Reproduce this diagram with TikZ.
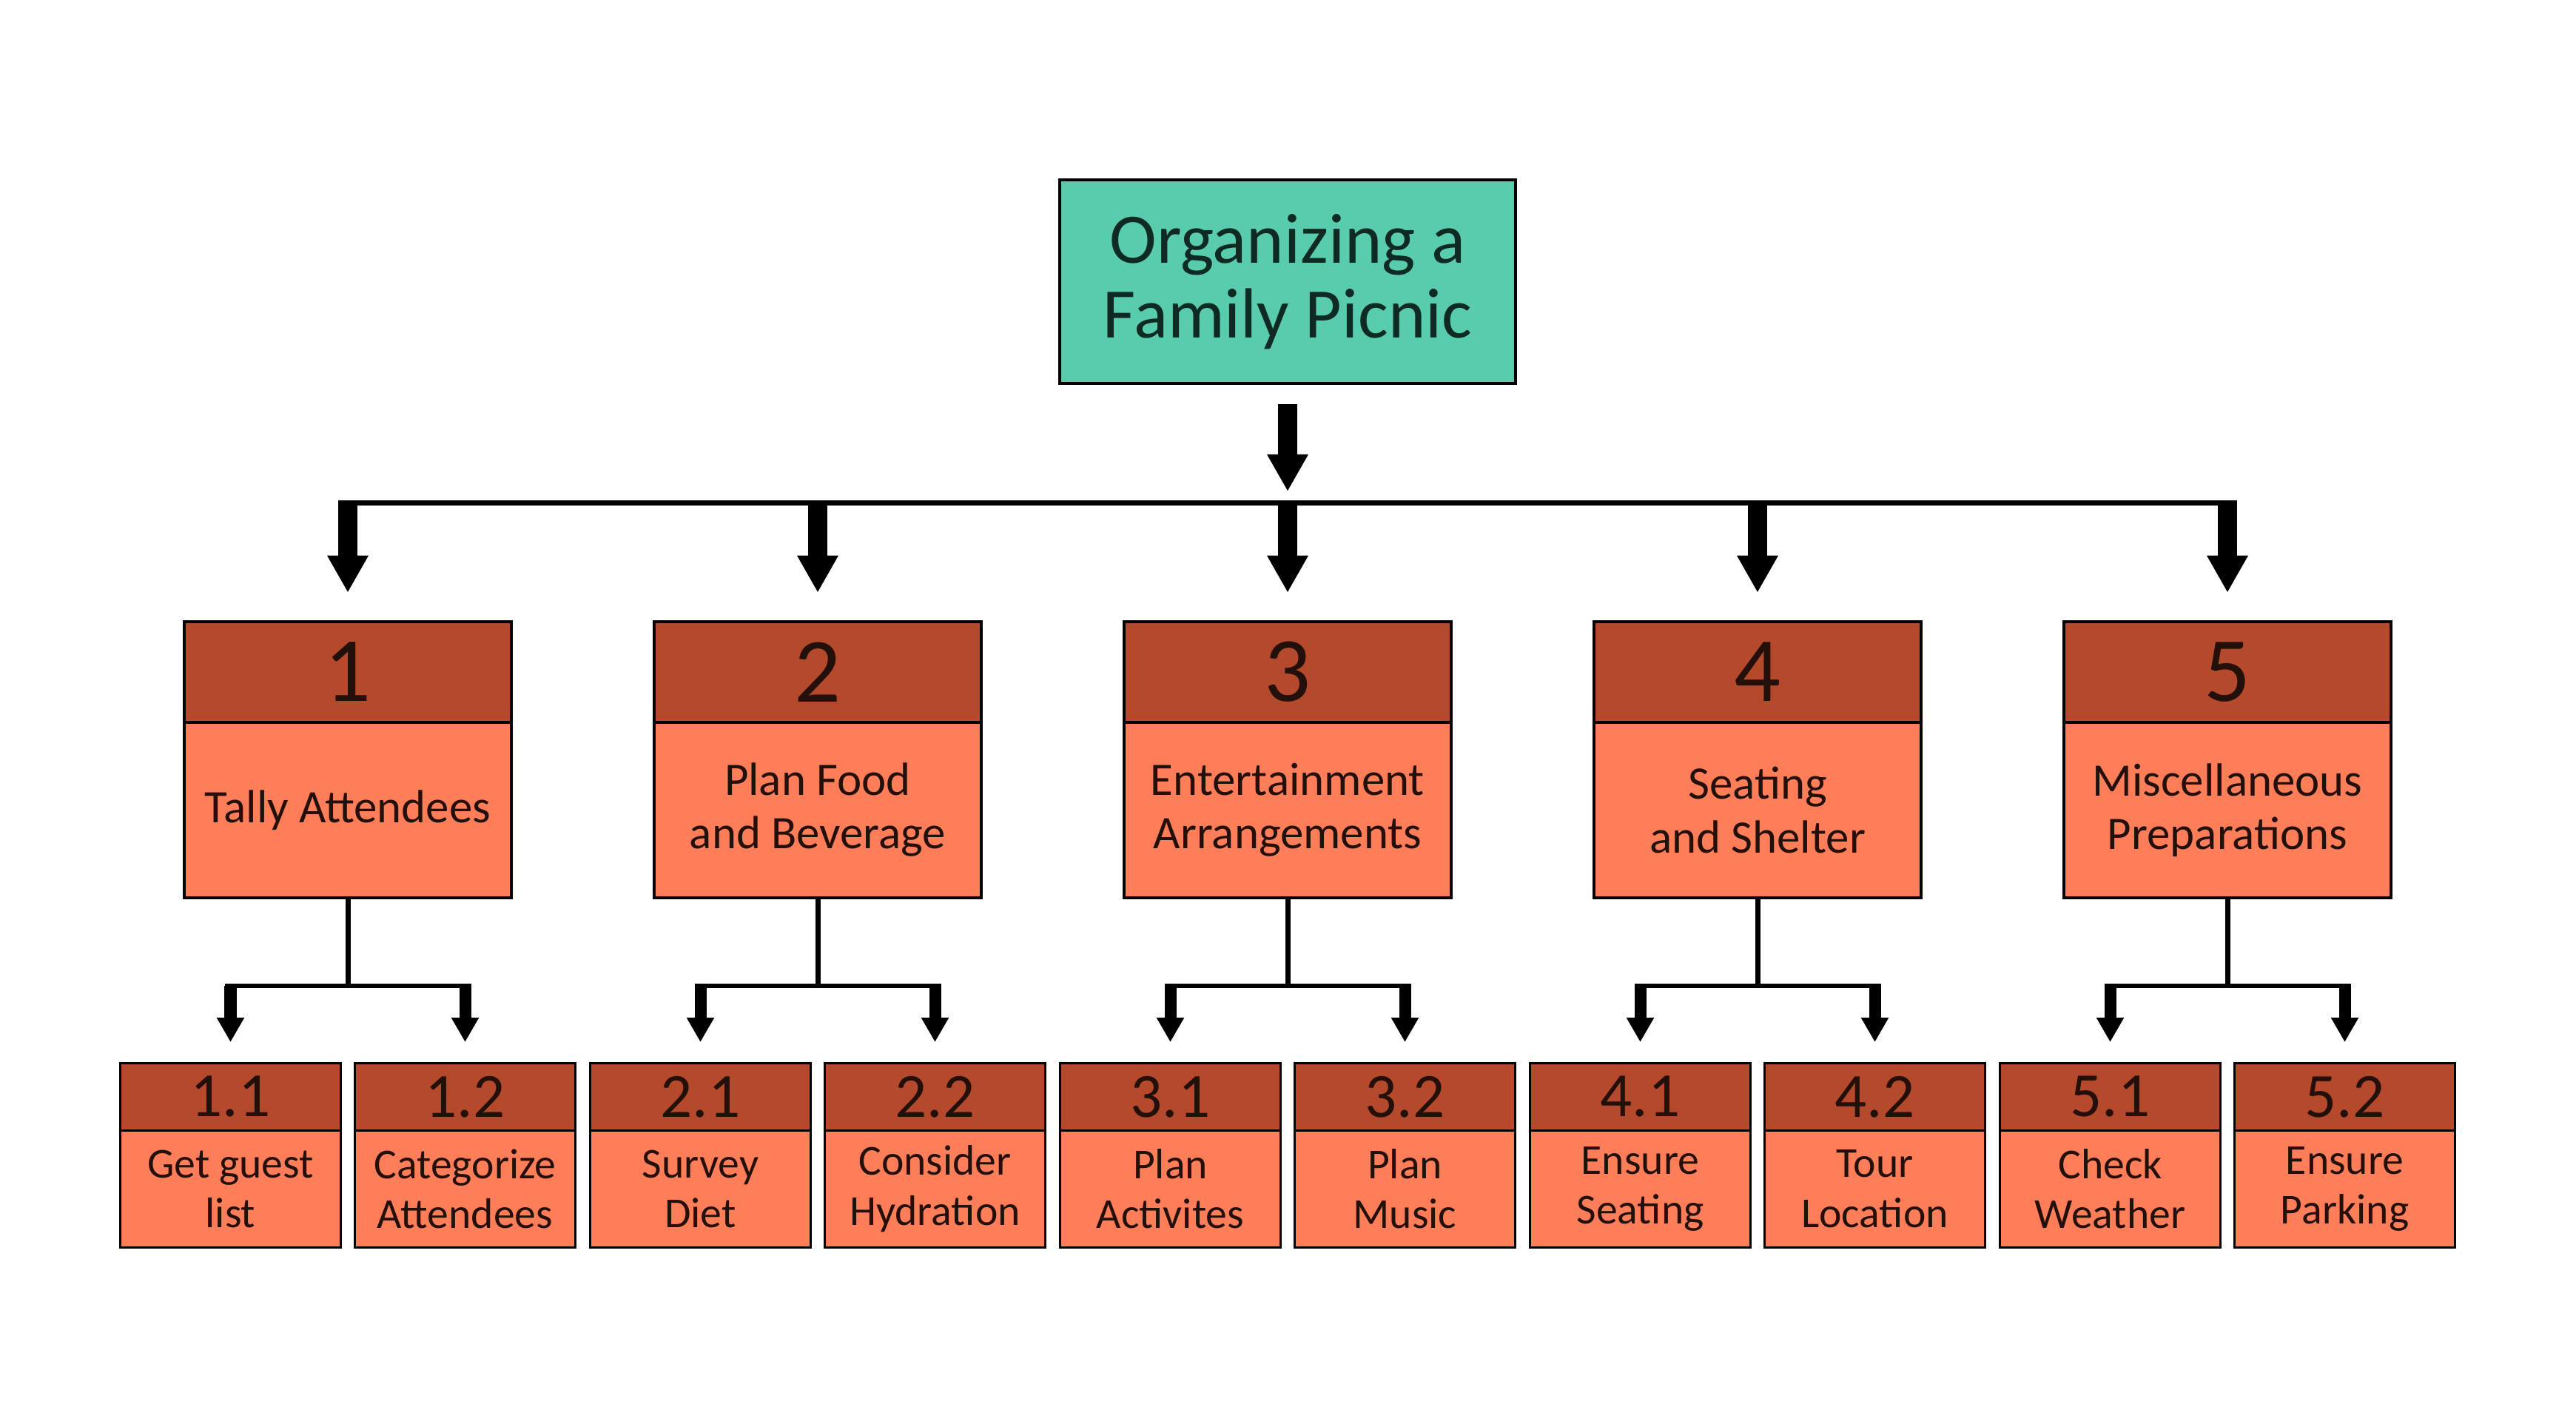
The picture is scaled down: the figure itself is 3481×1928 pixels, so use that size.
\documentclass[tikz,border=0pt]{standalone}
\usepackage{fontspec}
\setmainfont{Carlito}
\usetikzlibrary{arrows.meta,calc}
\definecolor{topfill}{HTML}{5ACCAE}
\definecolor{headfill}{HTML}{B4492C}
\definecolor{bodyfill}{HTML}{FF7E5A}
\definecolor{toptext}{HTML}{0E2A22}
\definecolor{inktext}{HTML}{24100A}
\begin{document}
\begin{tikzpicture}[x=0.01cm,y=-0.01cm,
  topbox/.style={draw=black,line width=0.045cm,fill=topfill,minimum width=6.16cm,minimum height=2.75cm,inner sep=0pt,align=center,text=toptext,font=\fontsize{27.3}{28.7}\selectfont},
  headbox/.style={draw=black,line width=0.045cm,fill=headfill,minimum width=4.42cm,minimum height=1.36cm,inner sep=0pt,text=inktext,font=\fontsize{35.3}{36}\selectfont},
  bodybox/.style={draw=black,line width=0.045cm,fill=bodyfill,minimum width=4.42cm,minimum height=2.37cm,inner sep=0pt,align=center,text=inktext,font=\fontsize{17.9}{20.5}\selectfont},
  subhead/.style={draw=black,line width=0.03cm,fill=headfill,minimum width=2.97cm,minimum height=0.905cm,inner sep=0pt,text=inktext,font=\fontsize{24.2}{25}\selectfont},
  subbody/.style={draw=black,line width=0.03cm,fill=bodyfill,minimum width=2.97cm,minimum height=1.585cm,inner sep=0pt,align=center,text=inktext,font=\fontsize{16.4}{19.2}\selectfont},
  bigarrow/.style={line width=0.26cm,-{Triangle[width=0.52cm,length=0.50cm]}},
  smallarrow/.style={line width=0.16cm,-{Triangle[width=0.35cm,length=0.33cm]}},
  busline/.style={line width=0.07cm},
  subbus/.style={line width=0.06cm}]
\fill[white] (0,0) rectangle (3481,1928);
\useasboundingbox (0,0) rectangle (3481,1928);

% top
\node[topbox] (top) at (1740,380.5) {Organizing a\\Family Picnic};

% level 1
\node[bodybox] (b1) at (470,1094.5) {Tally Attendees};
\node[headbox] (h1) at (470,908) {1};
\node[bodybox] (b2) at (1105,1094.5) {Plan Food\\and Beverage};
\node[headbox] (h2) at (1105,908) {2};
\node[bodybox] (b3) at (1740,1094.5) {Entertainment\\Arrangements};
\node[headbox] (h3) at (1740,908) {3};
\node[bodybox] (b4) at (2375,1094.5) {Seating\\and Shelter};
\node[headbox] (h4) at (2375,908) {4};
\node[bodybox] (b5) at (3010,1094.5) {Miscellaneous\\Preparations};
\node[headbox] (h5) at (3010,908) {5};

% level 2
\node[subbody] (t11) at (311.5,1606.25) {Get guest\\list};
\node[subhead] (s11) at (311.5,1481.75) {1.1};
\node[subbody] (t12) at (628.5,1606.25) {Categorize\\Attendees};
\node[subhead] (s12) at (628.5,1481.75) {1.2};
\node[subbody] (t21) at (946.5,1606.25) {Survey\\Diet};
\node[subhead] (s21) at (946.5,1481.75) {2.1};
\node[subbody] (t22) at (1263.5,1606.25) {Consider\\Hydration};
\node[subhead] (s22) at (1263.5,1481.75) {2.2};
\node[subbody] (t31) at (1581.5,1606.25) {Plan\\Activites};
\node[subhead] (s31) at (1581.5,1481.75) {3.1};
\node[subbody] (t32) at (1898.5,1606.25) {Plan\\Music};
\node[subhead] (s32) at (1898.5,1481.75) {3.2};
\node[subbody] (t41) at (2216.5,1606.25) {Ensure\\Seating};
\node[subhead] (s41) at (2216.5,1481.75) {4.1};
\node[subbody] (t42) at (2533.5,1606.25) {Tour\\Location};
\node[subhead] (s42) at (2533.5,1481.75) {4.2};
\node[subbody] (t51) at (2851.5,1606.25) {Check\\Weather};
\node[subhead] (s51) at (2851.5,1481.75) {5.1};
\node[subbody] (t52) at (3168.5,1606.25) {Ensure\\Parking};
\node[subhead] (s52) at (3168.5,1481.75) {5.2};

% top connector and bus
\coordinate (bus) at (1740,680);
\coordinate (busL) at (457,680);
\coordinate (busR) at (3023,680);
\draw[bigarrow] ($(top.south)+(0,26)$) -- ($(bus)+(0,-16)$);
\draw[busline] (busL) -- (busR);
\foreach \k in {1,...,5}{
  \draw[bigarrow] (h\k |- bus) -- ($(h\k.north)+(0,-37)$);
}

% sub connectors
\foreach \k in {1,...,5}{
  \coordinate (sb\k) at ($(b\k.south)+(0,117)$);
  \draw[busline] (b\k.south) -- (sb\k);
  \draw[subbus] ($(s\k1 |- sb\k)+(-8,0)$) -- ($(s\k2 |- sb\k)+(8,0)$);
  \draw[smallarrow] (s\k1 |- sb\k) -- ($(s\k1.north)+(0,-27)$);
  \draw[smallarrow] (s\k2 |- sb\k) -- ($(s\k2.north)+(0,-27)$);
}
\end{tikzpicture}
\end{document}
